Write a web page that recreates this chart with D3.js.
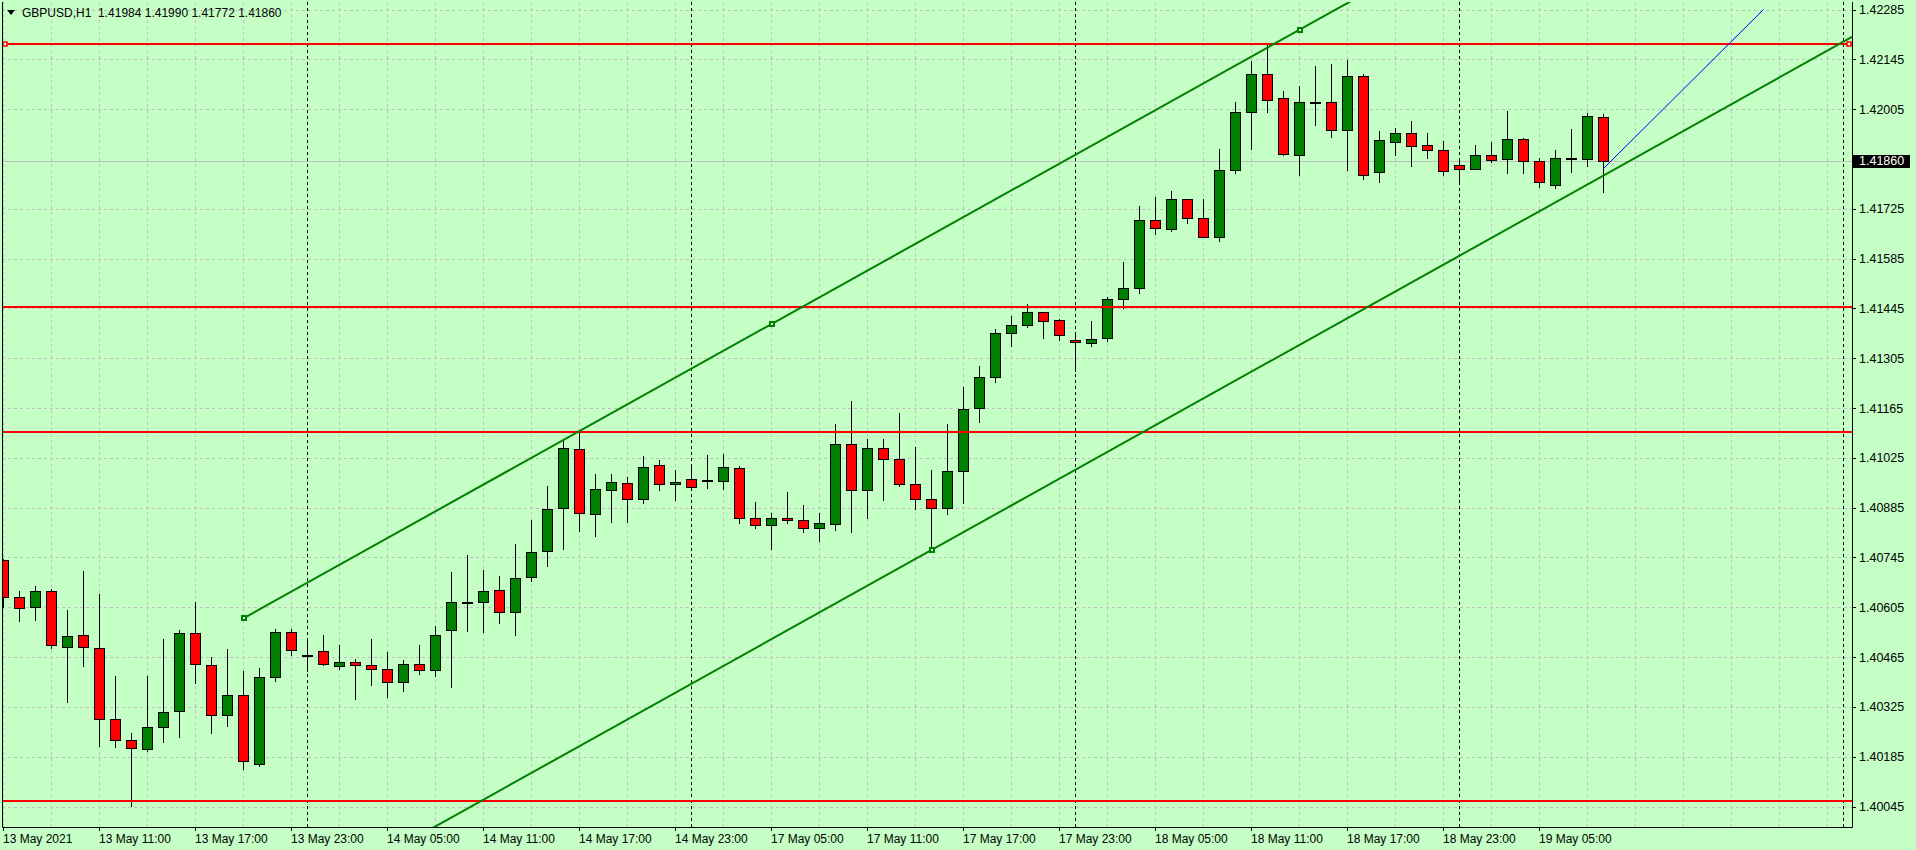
<!DOCTYPE html>
<html>
<head>
<meta charset="utf-8">
<script src="https://cdn.jsdelivr.net/npm/d3@7"></script>
<style>
  html, body { margin: 0; padding: 0; background: #c6ffc6; overflow: hidden; }
  svg { display: block; font-family: "Liberation Sans", Arial, sans-serif; }
</style>
</head>
<body>
<svg id="chart"></svg>
<script>
var width = 1916;
var height = 850;

// GBPUSD H1 bars, 13 May 05:00 .. 19 May 09:00
var opens = [1.40737,1.40635,1.40606,1.40651,1.40494,1.40528,1.40491,1.40292,1.40233,1.40207,
  1.40269,1.40314,1.40533,1.40443,1.40303,1.40359,1.40165,1.40410,1.40536,1.40472,
  1.40483,1.40441,1.40452,1.40443,1.40432,1.40396,1.40446,1.40429,1.40542,1.40621,
  1.40621,1.40654,1.40592,1.40691,1.40764,1.40885,1.41051,1.40868,1.40935,1.40955,
  1.40910,1.41006,1.40950,1.40966,1.40962,1.40961,1.40997,1.40857,1.40837,1.40857,
  1.40851,1.40829,1.40840,1.41065,1.40935,1.41053,1.41023,1.40950,1.40910,1.40885,
  1.40989,1.41166,1.41253,1.41377,1.41397,1.41436,1.41413,1.41357,1.41349,1.41362,
  1.41472,1.41501,1.41692,1.41669,1.41751,1.41700,1.41647,1.41835,1.41998,1.42105,
  1.42035,1.41877,1.42026,1.42026,1.41945,1.42097,1.41827,1.41914,1.41939,1.41903,
  1.41889,1.41849,1.41838,1.41875,1.41866,1.41922,1.41858,1.41793,1.41868,1.41866,
  1.41984];
var highs = [1.40742,1.40652,1.40666,1.40657,1.40596,1.40706,1.40641,1.40413,1.40252,1.40411,
  1.40517,1.40540,1.40619,1.40466,1.40489,1.40427,1.40433,1.40545,1.40543,1.40519,
  1.40526,1.40500,1.40460,1.40515,1.40478,1.40458,1.40500,1.40553,1.40705,1.40753,
  1.40711,1.40692,1.40784,1.40849,1.40947,1.41076,1.41104,1.40979,1.40979,1.40970,
  1.41029,1.41018,1.40990,1.41007,1.41032,1.41035,1.41001,1.40900,1.40871,1.40928,
  1.40893,1.40871,1.41121,1.41184,1.41079,1.41079,1.41152,1.41056,1.40992,1.41121,
  1.41223,1.41282,1.41388,1.41423,1.41456,1.41436,1.41416,1.41377,1.41409,1.41477,
  1.41575,1.41732,1.41757,1.41774,1.41752,1.41751,1.41892,1.42024,1.42140,1.42191,
  1.42057,1.42069,1.42126,1.42131,1.42142,1.42103,1.41943,1.41953,1.41971,1.41937,
  1.41915,1.41867,1.41903,1.41912,1.41999,1.41925,1.41867,1.41889,1.41948,1.41995,
  1.41990];
var lows = [1.40605,1.40566,1.40568,1.40490,1.40338,1.40439,1.40215,1.40212,1.40046,1.40200,
  1.40226,1.40240,1.40392,1.40251,1.40271,1.40150,1.40158,1.40398,1.40470,1.40425,
  1.40444,1.40431,1.40347,1.40386,1.40352,1.40369,1.40417,1.40411,1.40380,1.40539,
  1.40535,1.40560,1.40527,1.40678,1.40721,1.40768,1.40818,1.40805,1.40844,1.40844,
  1.40899,1.40935,1.40906,1.40938,1.40940,1.40937,1.40843,1.40829,1.40768,1.40843,
  1.40816,1.40792,1.40823,1.40816,1.40856,1.40906,1.40947,1.40882,1.40766,1.40868,
  1.40898,1.41126,1.41238,1.41339,1.41393,1.41362,1.41355,1.41270,1.41339,1.41352,
  1.41447,1.41488,1.41655,1.41663,1.41685,1.41647,1.41634,1.41826,1.41893,1.41997,
  1.41876,1.41820,1.41961,1.41926,1.41834,1.41809,1.41800,1.41875,1.41845,1.41867,
  1.41820,1.41803,1.41838,1.41855,1.41826,1.41826,1.41786,1.41783,1.41828,1.41846,
  1.41772];
var closes = [1.40633,1.40604,1.40651,1.40500,1.40525,1.40494,1.40292,1.40233,1.40210,1.40269,
  1.40311,1.40533,1.40446,1.40303,1.40359,1.40173,1.40410,1.40536,1.40486,1.40472,
  1.40446,1.40452,1.40443,1.40432,1.40396,1.40446,1.40429,1.40528,1.40621,1.40621,
  1.40651,1.40592,1.40688,1.40761,1.40882,1.41053,1.40871,1.40938,1.40958,1.40910,
  1.41000,1.40950,1.40958,1.40944,1.40962,1.41000,1.40857,1.40837,1.40857,1.40851,
  1.40829,1.40843,1.41065,1.40935,1.41053,1.41023,1.40950,1.40910,1.40885,1.40989,
  1.41163,1.41253,1.41377,1.41399,1.41436,1.41410,1.41371,1.41351,1.41360,1.41472,
  1.41501,1.41692,1.41671,1.41751,1.41699,1.41647,1.41835,1.41998,1.42105,1.42031,
  1.41879,1.42026,1.42021,1.41945,1.42097,1.41821,1.41917,1.41939,1.41902,1.41889,
  1.41832,1.41838,1.41875,1.41863,1.41922,1.41860,1.41799,1.41869,1.41868,1.41985,
  1.41860];

var priceTicks = [1.40045,1.40185,1.40325,1.40465,1.40605,1.40745,1.40885,1.41025,1.41165,
  1.41305,1.41445,1.41585,1.41725,1.41860,1.42005,1.42145,1.42285];
var timeLabels = ['13 May 2021','13 May 11:00','13 May 17:00','13 May 23:00','14 May 05:00',
  '14 May 11:00','14 May 17:00','14 May 23:00','17 May 05:00','17 May 11:00','17 May 17:00',
  '17 May 23:00','18 May 05:00','18 May 11:00','18 May 17:00','18 May 23:00','19 May 05:00'];
var timeLabelBars = [0,6,12,18,24,30,36,42,48,54,60,66,72,78,84,90,96];
var daySeparators = [19,43,67,91,115]; // midnight bars

var hLines = [1.42187, 1.41449, 1.41097, 1.40060];
var channelMain = [[15, 1.40574], [81, 1.42228]];
var channelThird = [58, 1.40766];
var blueLine = [[100, 1.41838], [110, 1.42285]];
var lastPrice = 1.41860;
var header = 'GBPUSD,H1  1.41984 1.41990 1.41772 1.41860';

var bg = '#c6ffc6';
var plot = {left: 2, right: 1852, top: 2, bottom: 827};

var x = d3.scaleLinear().domain([0, 1]).range([3.5, 19.5]);
var y = d3.scaleLinear().domain([1.40045, 1.42285]).range([806.5, 9.5]);

var svg = d3.select('#chart')
  .attr('width', width)
  .attr('height', height);

svg.append('rect')
  .attr('width', width).attr('height', height)
  .attr('fill', bg);

svg.append('clipPath').attr('id', 'plotclip')
  .append('rect')
  .attr('x', plot.left).attr('y', plot.top)
  .attr('width', plot.right - plot.left).attr('height', plot.bottom - plot.top);

var g = svg.append('g').attr('clip-path', 'url(#plotclip)');

// grid
var priceGrid = priceTicks.filter(function(d){ return d !== lastPrice; });
g.selectAll('line.hgrid')
  .data(priceGrid)
  .enter()
  .append('line')
  .attr('class', 'hgrid')
  .attr('x1', plot.left).attr('x2', plot.right)
  .attr('y1', function(d){ return Math.round(y(d)) + 0.5; })
  .attr('y2', function(d){ return Math.round(y(d)) + 0.5; })
  .attr('stroke', '#c0c0c0')
  .attr('stroke-dasharray', '3,3');

g.selectAll('line.vgrid')
  .data(d3.range(0, 116, 3))
  .enter()
  .append('line')
  .attr('class', 'vgrid')
  .attr('x1', function(d){ return x(d); })
  .attr('x2', function(d){ return x(d); })
  .attr('y1', plot.top).attr('y2', plot.bottom)
  .attr('stroke', '#c0c0c0')
  .attr('stroke-dasharray', '3,3');

g.selectAll('line.sep')
  .data(daySeparators)
  .enter()
  .append('line')
  .attr('class', 'sep')
  .attr('x1', function(d){ return x(d); })
  .attr('x2', function(d){ return x(d); })
  .attr('y1', plot.top).attr('y2', plot.bottom)
  .attr('stroke', '#000')
  .attr('stroke-dasharray', '3,3');

// bid line
g.append('line')
  .attr('x1', plot.left).attr('x2', plot.right)
  .attr('y1', Math.round(y(lastPrice)) + 0.5)
  .attr('y2', Math.round(y(lastPrice)) + 0.5)
  .attr('stroke', '#c0c0c0');

// candles
var bars = d3.range(opens.length);
var candle = g.selectAll('g.candle')
  .data(bars)
  .enter()
  .append('g')
  .attr('class', 'candle')
  .attr('shape-rendering', 'crispEdges');

candle.append('line')
  .attr('x1', function(i){ return x(i); })
  .attr('x2', function(i){ return x(i); })
  .attr('y1', function(i){ return Math.round(y(highs[i])); })
  .attr('y2', function(i){ return Math.round(y(lows[i])) + 1; })
  .attr('stroke', '#000');

candle.append('rect')
  .attr('x', function(i){ return x(i) - 5; })
  .attr('width', 10)
  .attr('y', function(i){ return Math.round(y(Math.max(opens[i], closes[i]))) + 0.5; })
  .attr('height', function(i){
    var h = Math.round(y(Math.min(opens[i], closes[i]))) - Math.round(y(Math.max(opens[i], closes[i])));
    return Math.max(h, 1);
  })
  .attr('fill', function(i){
    if (closes[i] > opens[i]) return '#008000';
    if (closes[i] < opens[i]) return '#ff0000';
    return '#000';
  })
  .attr('stroke', '#000');

// horizontal levels
g.selectAll('line.level')
  .data(hLines)
  .enter()
  .append('line')
  .attr('class', 'level')
  .attr('x1', plot.left).attr('x2', plot.right)
  .attr('y1', function(d){ return Math.round(y(d)); })
  .attr('y2', function(d){ return Math.round(y(d)); })
  .attr('stroke', '#ff0000')
  .attr('stroke-width', 2);

// selected level markers
[plot.left + 3, plot.right - 3].forEach(function(mx){
  g.append('rect')
    .attr('x', mx - 2).attr('y', Math.round(y(hLines[0])) - 2)
    .attr('width', 4).attr('height', 4)
    .attr('fill', bg).attr('stroke', '#ff0000').attr('stroke-width', 1.5);
});

// equidistant channel
var slope = (channelMain[1][1] - channelMain[0][1]) / (channelMain[1][0] - channelMain[0][0]);
var rayEnd = 125;
var offset = channelThird[1] - (channelMain[0][1] + slope * (channelThird[0] - channelMain[0][0]));
var channelLines = [
  [[channelMain[0][0], channelMain[0][1]], [rayEnd, channelMain[0][1] + slope * (rayEnd - channelMain[0][0])]],
  [[channelMain[0][0], channelMain[0][1] + offset], [rayEnd, channelMain[0][1] + offset + slope * (rayEnd - channelMain[0][0])]]
];
var line = d3.line()
  .x(function(d){ return x(d[0]); })
  .y(function(d){ return y(d[1]); });

g.selectAll('path.channel')
  .data(channelLines)
  .enter()
  .append('path')
  .attr('class', 'channel')
  .attr('d', line)
  .attr('fill', 'none')
  .attr('stroke', '#008000')
  .attr('stroke-width', 2);

var midBar = (channelMain[0][0] + channelMain[1][0]) / 2;
var markers = [channelMain[0], [midBar, channelMain[0][1] + slope * (midBar - channelMain[0][0])], channelMain[1], channelThird];
g.selectAll('rect.marker')
  .data(markers)
  .enter()
  .append('rect')
  .attr('class', 'marker')
  .attr('x', function(d){ return Math.round(x(d[0])) - 2; })
  .attr('y', function(d){ return Math.round(y(d[1])) - 2; })
  .attr('width', 4).attr('height', 4)
  .attr('fill', bg)
  .attr('stroke', '#008000')
  .attr('stroke-width', 2);

g.append('path')
  .datum(blueLine)
  .attr('d', line)
  .attr('fill', 'none')
  .attr('stroke', '#0000ff')
  .attr('stroke-width', 1);

// frame
svg.append('path')
  .attr('d', 'M' + (plot.left + 0.5) + ',' + plot.top + 'V' + (plot.bottom + 0.5) +
             'H' + (plot.right + 0.5) + 'V' + plot.top)
  .attr('fill', 'none')
  .attr('stroke', '#000');

// price axis
var pa = svg.append('g');
pa.selectAll('line')
  .data(priceGrid)
  .enter()
  .append('line')
  .attr('x1', plot.right).attr('x2', plot.right + 4)
  .attr('y1', function(d){ return Math.round(y(d)) + 0.5; })
  .attr('y2', function(d){ return Math.round(y(d)) + 0.5; })
  .attr('stroke', '#000');
pa.selectAll('text')
  .data(priceGrid)
  .enter()
  .append('text')
  .attr('x', plot.right + 7)
  .attr('y', function(d){ return y(d); })
  .attr('dy', '0.36em')
  .attr('font-size', '12.5px')
  .attr('fill', '#000')
  .text(function(d){ return d.toFixed(5); });

pa.append('rect')
  .attr('x', plot.right + 1).attr('y', Math.round(y(lastPrice)) - 6)
  .attr('width', 57).attr('height', 13)
  .attr('fill', '#000');
pa.append('text')
  .attr('x', plot.right + 7)
  .attr('y', y(lastPrice))
  .attr('dy', '0.36em')
  .attr('font-size', '12.5px')
  .attr('fill', '#fff')
  .text(lastPrice.toFixed(5));

// time axis
var ta = svg.append('g');
ta.selectAll('line')
  .data(timeLabelBars)
  .enter()
  .append('line')
  .attr('x1', function(d){ return x(d); })
  .attr('x2', function(d){ return x(d); })
  .attr('y1', plot.bottom).attr('y2', plot.bottom + 4)
  .attr('stroke', '#000');
ta.selectAll('text')
  .data(timeLabelBars)
  .enter()
  .append('text')
  .attr('x', function(d){ return x(d) - 0.5; })
  .attr('y', 843)
  .attr('font-size', '12px')
  .attr('fill', '#000')
  .text(function(d, i){ return timeLabels[i]; });

// header
svg.append('path')
  .attr('d', 'M7,10L15,10L11,15Z')
  .attr('fill', '#000');
svg.append('text')
  .attr('x', 22).attr('y', 16.5)
  .attr('font-size', '12px')
  .attr('fill', '#000')
  .attr('xml:space', 'preserve')
  .style('white-space', 'pre')
  .text(header);
</script>
</body>
</html>
